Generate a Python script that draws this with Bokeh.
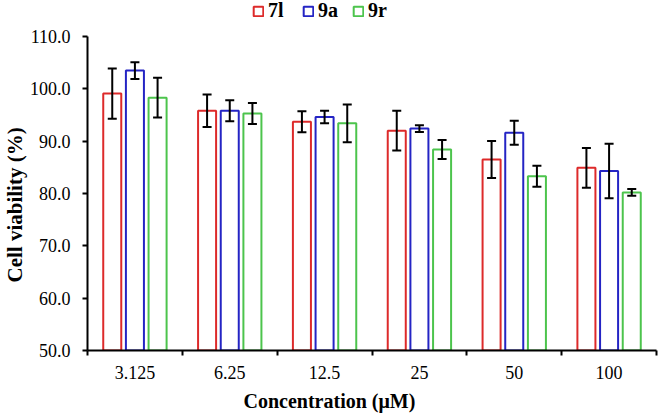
from bokeh.plotting import figure
from bokeh.layouts import column
from bokeh.models import (ColumnDataSource, Range1d, FixedTicker, Whisker, TeeHead,
                          Legend, LegendItem, NumeralTickFormatter, Title)
from bokeh.embed import file_html
from bokeh.resources import INLINE

categories = ["3.125", "6.25", "12.5", "25", "50", "100"]
series_names = ["7l", "9a", "9r"]
values_7l = [99.1, 95.8, 93.7, 92.0, 86.5, 84.9]
errors_7l = [4.8, 3.1, 2.0, 3.8, 3.55, 3.8]
values_9a = [103.5, 95.8, 94.6, 92.4, 91.6, 84.3]
errors_9a = [1.6, 2.0, 1.2, 0.65, 2.3, 5.2]
values_9r = [98.3, 95.3, 93.4, 88.4, 83.3, 80.2]
errors_9r = [3.8, 2.0, 3.6, 1.8, 2.0, 0.65]
y_ticks = [50, 60, 70, 80, 90, 100, 110]
x_title = "Concentration (μM)"
y_title = "Cell viability (%)"

colors = ["#DD2A2A", "#2424C4", "#4CC44C"]
offsets = [-0.239, 0.0, 0.239]
bar_w = 0.19
font = "Liberation Serif"
LEG_H = 22

# ---- legend strip on top (same data; its renderers are hidden) ----
leg = figure(width=658, height=LEG_H, output_backend="svg", toolbar_location=None,
             x_range=Range1d(0, len(categories)), y_range=Range1d(0, 1),
             x_axis_location=None, y_axis_location=None,
             min_border=0, min_border_left=0, min_border_right=0,
             min_border_top=0, min_border_bottom=0)
leg.outline_line_color = None
leg.xgrid.visible = False
leg.ygrid.visible = False

# ---- main chart ----
p = figure(width=658, height=417 - LEG_H, output_backend="svg", toolbar_location=None,
           x_range=Range1d(0, len(categories)), y_range=Range1d(50, 110),
           min_border_left=86, min_border_right=2, min_border_top=36 - LEG_H,
           min_border_bottom=66)
p.outline_line_color = None
p.xgrid.visible = False
p.ygrid.visible = False
p.background_fill_color = "white"

leg_items = []
for name, vals, errs, col, off in zip(series_names, [values_7l, values_9a, values_9r],
                                      [errors_7l, errors_9a, errors_9r], colors, offsets):
    xs = [i + 0.5 + off for i in range(len(categories))]
    src = ColumnDataSource(dict(x=xs, top=vals,
                                upper=[v + e for v, e in zip(vals, errs)],
                                lower=[v - e for v, e in zip(vals, errs)]))
    p.vbar(x="x", top="top", bottom=50, width=bar_w, source=src,
           fill_color="white", line_color=col, line_width=2)
    w = Whisker(source=src, base="x", upper="upper", lower="lower",
                line_color="black", line_width=2, level="overlay",
                upper_head=TeeHead(size=9, line_color="black", line_width=2),
                lower_head=TeeHead(size=9, line_color="black", line_width=2))
    p.add_layout(w)
    lr = leg.vbar(x="x", top="top", bottom=50, width=bar_w, source=src,
                  fill_color="white", line_color=col, line_width=2)
    lr.visible = False
    leg_items.append(LegendItem(label=name, renderers=[lr]))

legend = Legend(items=leg_items, orientation="horizontal", location=(165, 0),
                label_text_font=font, label_text_font_style="bold",
                label_text_font_size="20px", label_text_color="black",
                label_text_line_height=1.0, label_height=18,
                glyph_width=12, glyph_height=12, label_standoff=4, spacing=14,
                padding=0, margin=0, border_line_color=None,
                background_fill_alpha=0, inactive_fill_alpha=0)
leg.add_layout(legend)

xa = p.xaxis[0]
xa.ticker = FixedTicker(ticks=[i + 0.5 for i in range(len(categories))],
                        minor_ticks=list(range(len(categories) + 1)))
xa.major_label_overrides = {i + 0.5: c for i, c in enumerate(categories)}
xa.major_tick_line_color = None
xa.major_tick_out = 0
xa.major_tick_in = 0
xa.minor_tick_line_color = "black"
xa.minor_tick_line_width = 2
xa.minor_tick_out = 5
xa.minor_tick_in = 0
xa.axis_line_color = "black"
xa.axis_line_width = 2
xa.major_label_text_font = font
xa.major_label_text_font_size = "18px"
xa.major_label_text_color = "black"
xa.major_label_standoff = 10

ya = p.yaxis[0]
ya.ticker = FixedTicker(ticks=y_ticks)
ya.formatter = NumeralTickFormatter(format="0.0")
ya.minor_tick_line_color = None
ya.major_tick_out = 5
ya.major_tick_in = 0
ya.major_tick_line_width = 2
ya.major_tick_line_color = "black"
ya.axis_line_color = "black"
ya.axis_line_width = 2
ya.major_label_text_font = font
ya.major_label_text_font_size = "18px"
ya.major_label_text_color = "black"
ya.major_label_standoff = 12

p.add_layout(Title(text=x_title, align="left", offset=156, standoff=12,
                   text_font=font, text_font_style="bold", text_font_size="20px",
                   text_color="black"), "below")
p.add_layout(Title(text=y_title, align="left", offset=68, standoff=0,
                   text_font=font, text_font_style="bold", text_font_size="21px",
                   text_color="black"), "left")

layout = column(leg, p, spacing=0)
open("out.html", "w").write(file_html(layout, INLINE))
